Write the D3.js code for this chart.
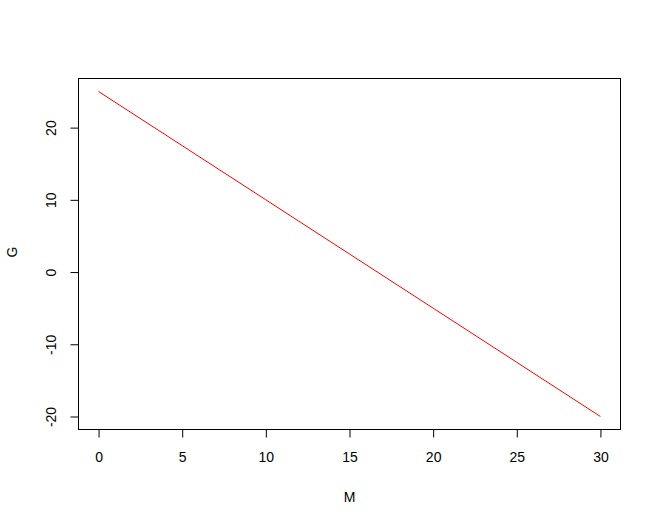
<!DOCTYPE html>
<html>
<head>
<meta charset="utf-8">
<script src="https://cdn.jsdelivr.net/npm/d3@7"></script>
<style>
  body { margin: 0; background: #fff; }
  text { font-family: "Liberation Sans", Arial, sans-serif; }
</style>
</head>
<body>
<svg width="661" height="527"></svg>
<script>
// values
var mValues = [0, 5, 10, 15, 20, 25, 30];
var gValues = [25, 17.5, 10, 2.5, -5, -12.5, -20];
var xTicks = [0, 5, 10, 15, 20, 25, 30];
var yTicks = [-20, -10, 0, 10, 20];

var svg = d3.select("svg");
var box = { left: 78.5, right: 620.5, top: 78.5, bottom: 429.5 };
var fontSize = "14px";

// R-style 4% padding on both ends
var xDom = [0, 30], yDom = [-20, 25];
var xPad = (xDom[1] - xDom[0]) * 0.04, yPad = (yDom[1] - yDom[0]) * 0.04;
var x = d3.scaleLinear().domain([xDom[0] - xPad, xDom[1] + xPad]).range([box.left, box.right]);
var y = d3.scaleLinear().domain([yDom[0] - yPad, yDom[1] + yPad]).range([box.bottom, box.top]);

var data = mValues.map(function (m, i) { return { m: m, g: gValues[i] }; });

// plain hyphen like R, not unicode minus
var fmt = function (d) { return String(d); };

// line
svg.append("path")
  .datum(data)
  .attr("fill", "none")
  .attr("stroke", "#ff0000")
  .attr("stroke-width", 1)
  .attr("d", d3.line().x(function (d) { return x(d.m); }).y(function (d) { return y(d.g); }));

// frame
svg.append("rect")
  .attr("x", box.left).attr("y", box.top)
  .attr("width", box.right - box.left).attr("height", box.bottom - box.top)
  .attr("fill", "none").attr("stroke", "#000").attr("stroke-width", 1);

// x axis
var xAxis = d3.axisBottom(x).tickValues(xTicks).tickFormat(fmt).tickSize(8).tickPadding(15).tickSizeOuter(0);
var gX = svg.append("g")
  .attr("transform", "translate(0," + box.bottom + ")")
  .call(xAxis);
gX.select(".domain")
  .attr("d", "M" + x(xTicks[0]) + ",0H" + x(xTicks[xTicks.length - 1]));
gX.selectAll(".tick line").attr("stroke", "#000");
gX.selectAll("text")
  .attr("fill", "#000")
  .style("font-size", fontSize)
  .style("font-family", "Liberation Sans, Arial, sans-serif");

// y axis
var yAxis = d3.axisLeft(y).tickValues(yTicks).tickFormat(fmt).tickSize(8).tickSizeOuter(0);
var gY = svg.append("g")
  .attr("transform", "translate(" + box.left + ",0)")
  .call(yAxis);
gY.select(".domain")
  .attr("d", "M0," + y(yTicks[0]) + "V" + y(yTicks[yTicks.length - 1]));
gY.selectAll(".tick line").attr("stroke", "#000");
gY.selectAll("text")
  .attr("fill", "#000")
  .attr("x", 0).attr("dy", null)
  .attr("text-anchor", "middle")
  .attr("transform", "translate(-27.5,0) rotate(-90)")
  .attr("dominant-baseline", "central")
  .style("font-size", fontSize)
  .style("font-family", "Liberation Sans, Arial, sans-serif");

// axis titles
svg.append("text")
  .attr("x", (box.left + box.right) / 2)
  .attr("y", 502)
  .attr("text-anchor", "middle")
  .style("font-size", fontSize)
  .text("M");

svg.append("text")
  .attr("transform", "translate(17," + ((box.top + box.bottom) / 2 - 2) + ") rotate(-90)")
  .attr("text-anchor", "middle")
  .style("font-size", fontSize)
  .text("G");
</script>
</body>
</html>
